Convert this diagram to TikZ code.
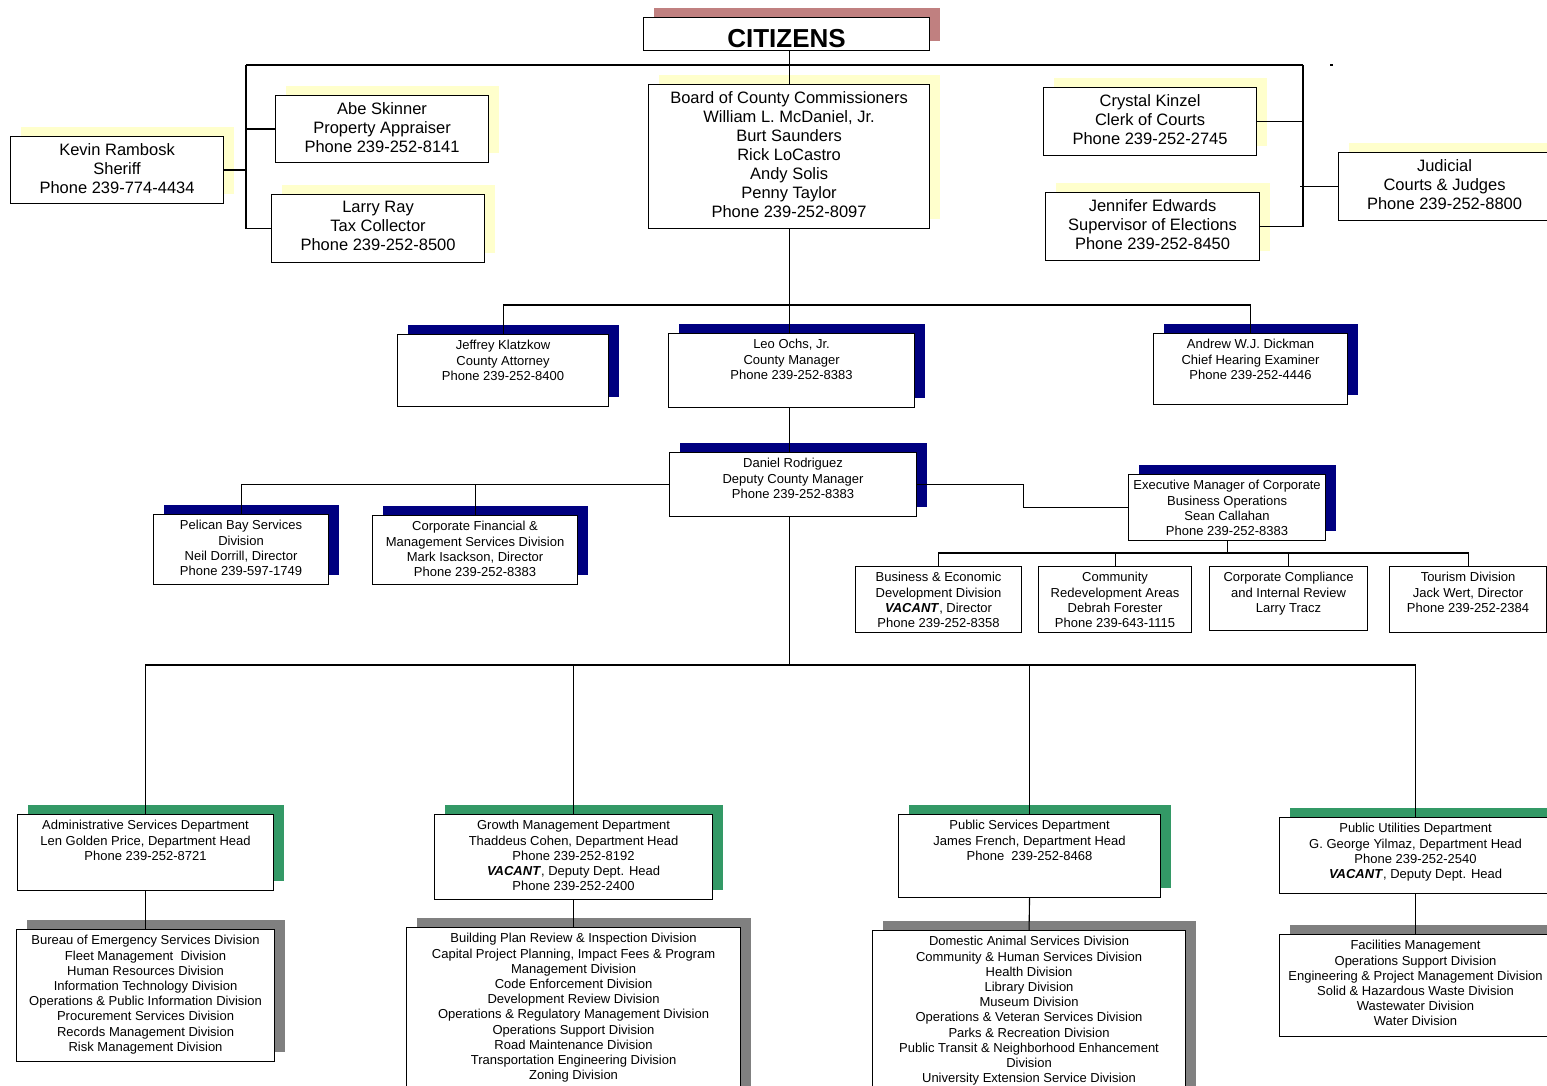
\documentclass[tikz,border=0pt]{standalone}
\usepackage{fontspec}
\setmainfont{Liberation Sans}
\usetikzlibrary{shadows}
\definecolor{shyel}{HTML}{FFFFCC}
\definecolor{shrose}{HTML}{C08080}
\definecolor{shnavy}{HTML}{000080}
\definecolor{shgreen}{HTML}{339966}
\definecolor{shgray}{HTML}{808080}
\begin{document}
\begin{tikzpicture}[x=1pt, y=-1pt, line width=1.1pt,
	box/.style={rectangle, draw, fill=white, anchor=north west, inner sep=0pt},
	shade/.style={drop shadow={shadow xshift=10pt, shadow yshift=10pt, fill=#1, opacity=1}},
	bigtxt/.style={anchor=north, inner sep=0pt, yshift=-7pt, align=center, font=\fontsize{16.5}{19}\selectfont},
	smalltxt/.style={anchor=north, inner sep=0pt, yshift=-6pt, align=center, font=\fontsize{13}{15.2}\selectfont}]
	\useasboundingbox (0,0) rectangle (1547,1086);
	% elected offices
	\node (cit) at (643,17)	[box, shade=shrose, minimum width=286, minimum height=33]	{};
	\node (board) at (648,84)	[box, shade=shyel, minimum width=281, minimum height=144]	{};
	\node (kevin) at (10,136)	[box, shade=shyel, minimum width=213, minimum height=67]	{};
	\node (abe) at (275,95)	[box, shade=shyel, minimum width=213, minimum height=67]	{};
	\node (larry) at (271,194)	[box, shade=shyel, minimum width=213, minimum height=68]	{};
	\node (crystal) at (1043,87)	[box, shade=shyel, minimum width=213, minimum height=68]	{};
	\node (jennifer) at (1045,192)	[box, shade=shyel, minimum width=214, minimum height=68]	{};
	\node (judicial) at (1338,152)	[box, shade=shyel, minimum width=212, minimum height=68]	{};
	\node (citt) at (cit.south)	[anchor=base, yshift=4pt, font=\bfseries\fontsize{26}{30}\selectfont]	{CITIZENS};
	\node (boardt) at (board.north)	[bigtxt]	{Board of County Commissioners\\William L. McDaniel, Jr.\\Burt Saunders\\Rick LoCastro\\Andy Solis\\Penny Taylor\\Phone 239-252-8097};
	\node (kevint) at (kevin.north)	[bigtxt]	{Kevin Rambosk\\Sheriff\\Phone 239-774-4434};
	\node (abet) at (abe.north)	[bigtxt]	{Abe Skinner\\Property Appraiser\\Phone 239-252-8141};
	\node (larryt) at (larry.north)	[bigtxt]	{Larry Ray\\Tax Collector\\Phone 239-252-8500};
	\node (crystalt) at (crystal.north)	[bigtxt]	{Crystal Kinzel\\Clerk of Courts\\Phone 239-252-2745};
	\node (jennifert) at (jennifer.north)	[bigtxt]	{Jennifer Edwards\\Supervisor of Elections\\Phone 239-252-8450};
	\node (judicialt) at (judicial.north)	[bigtxt]	{Judicial\\Courts \& Judges\\Phone 239-252-8800};
	\coordinate (busL) at (246,65);
	\coordinate (busR) at (1303,65);
	\coordinate (dotA) at (1330,65);
	\draw (busL) -- (busR);
	\draw (dotA) -- ++(3,0);
	\draw (board.north) -- (board.north |- cit.south);
	\draw (busL) |- (larry.west);
	\draw (busL |- abe.west) -- (abe.west);
	\draw (kevin.east) -- (kevin.east -| busL);
	\draw (busR) |- (jennifer.east);
	\draw (crystal.east) -- (crystal.east -| busR);
	\draw (judicial.west) -- ++(-38,0);
	% county manager level
	\node (jeffrey) at (397,334)	[box, shade=shnavy, minimum width=211, minimum height=72]	{};
	\node (leo) at (668,333)	[box, shade=shnavy, minimum width=246, minimum height=74]	{};
	\node (andrew) at (1153,333)	[box, shade=shnavy, minimum width=194, minimum height=71]	{};
	\node (daniel) at (669,452)	[box, shade=shnavy, minimum width=247, minimum height=64]	{};
	\node (pelican) at (153,514)	[box, shade=shnavy, minimum width=175, minimum height=70]	{};
	\node (corpfin) at (372,515)	[box, shade=shnavy, minimum width=205, minimum height=69]	{};
	\node (exec) at (1128,474)	[box, shade=shnavy, minimum width=197, minimum height=66]	{};
	\node (jeffreyt) at (jeffrey.north)	[smalltxt]	{Jeffrey Klatzkow\\County Attorney\\Phone 239-252-8400};
	\node (leot) at (leo.north)	[smalltxt]	{Leo Ochs, Jr.\\County Manager\\Phone 239-252-8383};
	\node (andrewt) at (andrew.north)	[smalltxt]	{Andrew W.J. Dickman\\Chief Hearing Examiner\\Phone 239-252-4446};
	\node (danielt) at (daniel.north)	[smalltxt]	{Daniel Rodriguez\\Deputy County Manager\\Phone 239-252-8383};
	\node (pelicant) at (pelican.north)	[smalltxt]	{Pelican Bay Services\\Division\\Neil Dorrill, Director\\Phone 239-597-1749};
	\node (corpfint) at (corpfin.north)	[smalltxt]	{Corporate Financial \&\\Management Services Division\\Mark Isackson, Director\\Phone 239-252-8383};
	\node (exect) at (exec.north)	[smalltxt]	{Executive Manager of Corporate\\Business Operations\\Sean Callahan\\Phone 239-252-8383};
	\draw (board.south) -- (board.south |- leo.north);
	\draw (jeffrey.north) -- ++(0,-29) -| (andrew.north);
	\draw (board.south |- leo.south) -- (board.south |- daniel.north);
	\draw (daniel.west) -| (pelican.north);
	\draw (corpfin.north) |- (daniel.west);
	\draw (daniel.east) -- ++(106,0) |- (exec.west);
	% business operations divisions
	\node (busdev) at (855,566)	[box, minimum width=166, minimum height=66]	{};
	\node (cra) at (1038,566)	[box, minimum width=153, minimum height=66]	{};
	\node (compliance) at (1209,566)	[box, minimum width=158, minimum height=64]	{};
	\node (tourism) at (1389,566)	[box, minimum width=157, minimum height=66]	{};
	\node (busdevt) at (busdev.north)	[smalltxt]	{Business \& Economic\\Development Division\\\textbf{\textit{VACANT}}, Director\\Phone 239-252-8358};
	\node (crat) at (cra.north)	[smalltxt]	{Community\\Redevelopment Areas\\Debrah Forester\\Phone 239-643-1115};
	\node (compliancet) at (compliance.north)	[smalltxt]	{Corporate Compliance\\and Internal Review\\Larry Tracz};
	\node (tourismt) at (tourism.north)	[smalltxt]	{Tourism Division\\Jack Wert, Director\\Phone 239-252-2384};
	\draw (busdev.north) -- ++(0,-13) -| (tourism.north);
	\draw (cra.north) -- ++(0,-13);
	\draw (compliance.north) -- ++(0,-13);
	\draw (exec.south) -- ++(0,13);
	% departments
	\node (admin) at (17,814)	[box, shade=shgreen, minimum width=256, minimum height=76]	{};
	\node (growth) at (434,814)	[box, shade=shgreen, minimum width=278, minimum height=85]	{};
	\node (pubsvc) at (898,814)	[box, shade=shgreen, minimum width=262, minimum height=83]	{};
	\node (pubutil) at (1279,817)	[box, shade=shgreen, minimum width=272, minimum height=76]	{};
	\node (admint) at (admin.north)	[smalltxt]	{Administrative Services Department\\Len Golden Price, Department Head\\Phone 239-252-8721};
	\node (growtht) at (growth.north)	[smalltxt]	{Growth Management Department\\Thaddeus Cohen, Department Head\\Phone 239-252-8192\\\textbf{\textit{VACANT}}, Deputy Dept. Head\\Phone 239-252-2400};
	\node (pubsvct) at (pubsvc.north)	[smalltxt]	{Public Services Department\\James French, Department Head\\Phone\ \ 239-252-8468};
	\node (pubutilt) at (pubutil.north)	[smalltxt]	{Public Utilities Department\\G. George Yilmaz, Department Head\\Phone 239-252-2540\\\textbf{\textit{VACANT}}, Deputy Dept. Head};
	\draw (board.south |- daniel.south) -- (board.south |- 0,665);
	\draw (admin.north) -- ++(0,-149) -| (pubutil.north);
	\draw (growth.north) -- ++(0,-149);
	\draw (pubsvc.north) -- ++(0,-149);
	% divisions
	\node (admindiv) at (16,929)	[box, shade=shgray, minimum width=258, minimum height=132]	{};
	\node (growthdiv) at (406,927)	[box, shade=shgray, minimum width=334, minimum height=175]	{};
	\node (psdiv) at (872,930)	[box, shade=shgray, minimum width=313, minimum height=175]	{};
	\node (pudiv) at (1279,934)	[box, shade=shgray, minimum width=272, minimum height=102]	{};
	\node (admindivt) at (admindiv.north)	[smalltxt]	{Bureau of Emergency Services Division\\Fleet Management\ \ Division\\Human Resources Division\\Information Technology Division\\Operations \& Public Information Division\\Procurement Services Division\\Records Management Division\\Risk Management Division};
	\node (growthdivt) at (growthdiv.north)	[smalltxt]	{Building Plan Review \& Inspection Division\\Capital Project Planning, Impact Fees \& Program\\Management Division\\Code Enforcement Division\\Development Review Division\\Operations \& Regulatory Management Division\\Operations Support Division\\Road Maintenance Division\\Transportation Engineering Division\\Zoning Division};
	\node (psdivt) at (psdiv.north)	[smalltxt]	{Domestic Animal Services Division\\Community \& Human Services Division\\Health Division\\Library Division\\Museum Division\\Operations \& Veteran Services Division\\Parks \& Recreation Division\\Public Transit \& Neighborhood Enhancement\\Division\\University Extension Service Division};
	\node (pudivt) at (pudiv.north)	[smalltxt]	{Facilities Management\\Operations Support Division\\Engineering \& Project Management Division\\Solid \& Hazardous Waste Division\\Wastewater Division\\Water Division};
	\draw (admin.south) -- (admindiv.north);
	\draw (growth.south) -- (growthdiv.north);
	\draw (pubsvc.south) -- (psdiv.north);
	\draw (pubutil.south) -- (pudiv.north);
\end{tikzpicture}
\end{document}
